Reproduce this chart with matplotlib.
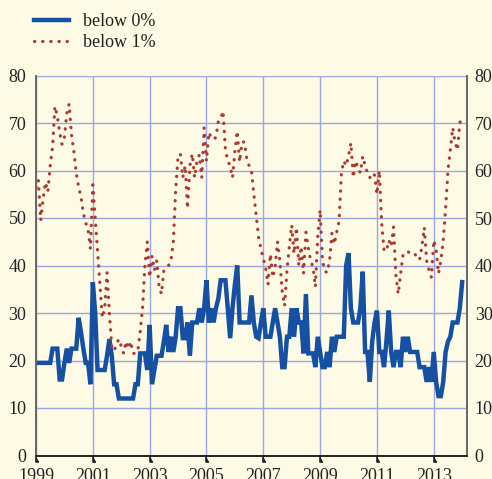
import numpy as np
import matplotlib
matplotlib.use("Agg")
import matplotlib.pyplot as plt
from matplotlib.path import Path

# ---- data (monthly, starting Jan 1999) ----
start_year = 1999
below_0 = (
    [19.5] * 7 + [22.5] * 3 + [16, 16] + [19.5, 22.5, 19.5] + [22.5] * 3 +
    [29, 26, 22.5, 19.5, 19.5, 15, 36.5, 30] + [18] * 4 + [21, 24.5, 21] +
    [15] * 2 + [12] * 7 + [15] * 2 + [21.5] * 3 + [18, 27.5, 15, 18] +
    [21] * 3 + [24, 27.5, 21.8, 25, 21.8, 25] + [31] * 2 + [24.7] * 2 +
    [28, 21] + [28] * 3 + [31, 28, 31, 36.9, 28, 31, 28, 31, 33] +
    [36.9] * 3 + [31, 24.7, 31, 36, 40] + [28] * 5 + [33.7, 28, 25, 24.7, 28, 31, 25] +
    [25] * 2 + [28, 31, 28, 25] + [18.6] * 2 + [25] * 2 + [31, 25, 31, 28, 28, 21.5, 34] +
    [21.5] * 3 + [18.6, 25, 21.8] + [18.6] * 2 + [21.8, 18.6, 25, 21.8] + [25] * 4 +
    [40, 42.6, 31] + [28] * 3 + [31, 38.7] + [21.8] * 2 + [15.5, 24, 28, 30.5] +
    [21.8] * 2 + [18.6, 24, 30.5, 21.8, 18.6] + [21.8] * 2 + [18.6, 25, 21.8, 25] +
    [21.8] * 4 + [18.6] * 3 + [15.5, 18.6, 15.5, 21.8, 15.5] + [12.5] * 2 +
    [15.5, 21.8, 24, 25] + [28] * 3 + [31, 36.5]
)
below_1 = [
    56.5, 58, 49.5, 54, 57.5, 55.5, 61, 65, 73.5, 71.5, 68, 65.5,
    67, 72, 74, 67.5, 64, 59.5, 56.5, 54.5, 51, 49, 47.5, 43.5,
    57, 50, 43, 36, 29, 31, 38.5, 30, 23, 22, 23.5, 24.5,
    23, 21.5, 24, 22.5, 24, 21.5, 21.5, 22, 26, 31, 40, 45,
    37.5, 42, 39, 41, 35.5, 34, 39, 39.5, 40, 41, 45, 56,
    63, 63.5, 58.5, 61, 52, 61, 63.5, 58.5, 62, 63.3, 58.5, 69,
    62, 68, 67, 66.5, 67, 70.3, 71, 72.5, 64.5, 62, 61, 58.5,
    64, 68.3, 61.8, 66, 66, 62.6, 61, 59.9, 55, 50.5, 46, 43.5,
    41.5, 39.5, 36, 42.4, 37.5, 39.7, 45, 41, 34.5, 31.5, 39, 44,
    48.5, 42.5, 48, 40, 44, 38.3, 47, 43.8, 41, 39.7, 35.5, 46,
    51.7, 41, 38.8, 38.5, 41, 46.8, 44.5, 47, 49.3, 59.5, 62, 61,
    63, 65.8, 58.5, 62, 60.5, 59.5, 63, 61, 59.5, 58.5, 59.5, 59,
    55, 60, 49, 43.2, 43, 45.3, 44, 48.1, 38, 34, 38.3, 42.2,
    42.5, 43, 42.5, 42.5, 42.5, 41.5, 41.2, 44, 48, 41, 39, 37.5,
    45.3, 43.3, 38.3, 41, 45.3, 52, 60, 64.3, 69, 66, 64.3, 70,
    71.4,
]
series_labels = ["below 0%", "below 1%"]
year_ticks = [1999, 2001, 2003, 2005, 2007, 2009, 2011, 2013]
y_ticks = [0, 10, 20, 30, 40, 50, 60, 70, 80]

x0 = start_year + np.arange(len(below_0)) / 12.0
x1 = start_year + np.arange(len(below_1)) / 12.0

# ---- style ----
bg = "#fdfbe6"
blue = "#1550a2"
red = "#ac3a30"
grid_c = "#9aa6e6"
txt = "#222222"
fs = 13
plt.rcParams["font.family"] = ["Liberation Serif", "DejaVu Serif"]

fig = plt.figure(figsize=(4.92, 4.79), dpi=100, facecolor=bg)
ax = fig.add_axes([36 / 492, 1 - 455.5 / 479, (467 - 36) / 492, (455.5 - 75.5) / 479])
ax.set_facecolor(bg)

l0, = ax.plot(x0, below_0, color=blue, lw=3.2, solid_joinstyle="miter", zorder=3)
l1, = ax.plot(x1, below_1, color=red, lw=2.3, linestyle=(0, (0.1, 2.45)),
              dash_capstyle="round", zorder=4)

ax.set_xlim(1999, 2014.17)
ax.set_ylim(0, 80)
ax.set_xticks(year_ticks)
ax.set_xticklabels([str(y) for y in year_ticks])
ax.set_yticks(y_ticks)
ax.grid(True, color=grid_c, lw=1.0, zorder=0)
ax.set_axisbelow(True)

ax.tick_params(axis="y", length=0, labelsize=fs, colors=txt, pad=7)
ax.tick_params(axis="x", length=8, width=1.2, color=txt, labelsize=fs,
               labelcolor=txt, pad=1.2, direction="out")
hook = Path([(0, 0), (0, -1), (0.55, -1)], [Path.MOVETO, Path.LINETO, Path.LINETO])
for t in ax.xaxis.get_major_ticks():
    t.tick1line.set_marker(hook)

ax2 = ax.twinx()
ax2.set_ylim(0, 80)
ax2.set_yticks(y_ticks)
ax2.tick_params(axis="y", length=0, labelsize=fs, colors=txt, pad=5.5)

for a in (ax, ax2):
    a.spines["top"].set_visible(False)
    a.spines["bottom"].set_color(txt)
    a.spines["bottom"].set_linewidth(1.2)
    for s in ["left", "right"]:
        a.spines[s].set_color("#666666")
        a.spines[s].set_linewidth(1.2)

fig.legend([l0, l1], series_labels, loc="upper left",
           bbox_to_anchor=(18 / 492, 1 + 3 / 479), frameon=False,
           fontsize=fs, handlelength=1.95, handletextpad=0.75,
           labelspacing=0.22, labelcolor=txt)

fig.savefig("out.png", dpi=100, facecolor=bg)
